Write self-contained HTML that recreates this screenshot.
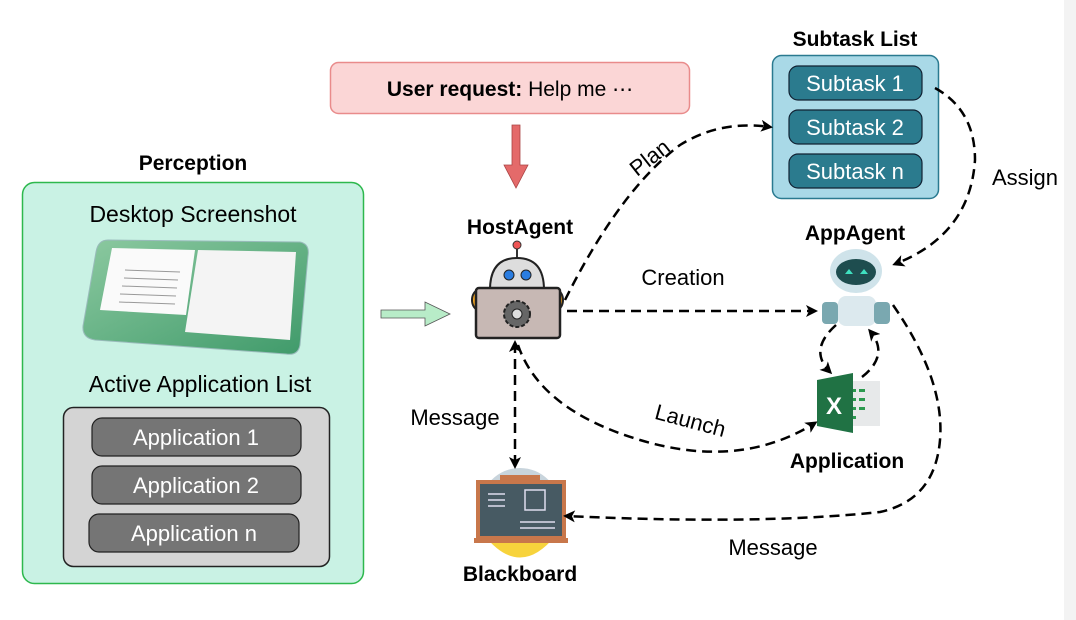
<!DOCTYPE html>
<html><head><meta charset="utf-8"><style>
body{margin:0;width:1076px;height:620px;background:#fff;overflow:hidden;font-family:"Liberation Sans",sans-serif}
svg{position:absolute;left:0;top:0}
</style></head><body>
<svg width="1076" height="620" viewBox="0 0 1076 620" font-family="Liberation Sans, sans-serif">
<defs>
<marker id="ah" markerWidth="12" markerHeight="12" refX="9" refY="6" orient="auto" markerUnits="userSpaceOnUse"><path d="M0,0 L12,6 L0,12 L3,6Z" fill="#000"/></marker>
<marker id="ahs" markerWidth="12" markerHeight="12" refX="3" refY="6" orient="auto" markerUnits="userSpaceOnUse"><path d="M12,0 L0,6 L12,12 L9,6Z" fill="#000"/></marker>
<linearGradient id="scr" x1="0" y1="0" x2="1" y2="1"><stop offset="0" stop-color="#8cc9a0"/><stop offset="1" stop-color="#3f9a6a"/></linearGradient>
</defs>
<rect x="1064" y="0" width="12" height="620" fill="#f3f3f3"/>
<!-- Perception -->
<text x="193" y="170" font-size="21" font-weight="bold" text-anchor="middle">Perception</text>
<rect x="22.5" y="182.5" width="341" height="401" rx="12" fill="#c9f2e4" stroke="#2db84d" stroke-width="1.5"/>
<text x="193" y="222" font-size="23" text-anchor="middle">Desktop Screenshot</text>
<path d="M108,240 L300,242 Q310,244 308,256 L300,345 Q298,356 286,354 L95,340 Q82,338 83,326 L96,252 Q98,240 108,240Z" fill="url(#scr)" stroke="#9bb" stroke-width="1"/>
<path d="M112,248 L195,250 L186,315 L100,310Z" fill="#fafafa"/>
<path d="M198,250 L296,252 L290,340 L185,332Z" fill="#f4f4f4"/>
<g stroke="#999" stroke-width="1"><line x1="125" y1="270" x2="180" y2="272"/><line x1="124" y1="278" x2="178" y2="280"/><line x1="122" y1="286" x2="177" y2="288"/><line x1="120" y1="294" x2="176" y2="296"/><line x1="119" y1="302" x2="175" y2="304"/></g>
<text x="200" y="392" font-size="23" text-anchor="middle">Active Application List</text>
<rect x="63.5" y="407.5" width="266" height="159" rx="10" fill="#d4d4d4" stroke="#222" stroke-width="1.5"/>
<g fill="#757575" stroke="#222" stroke-width="1.2">
<rect x="92" y="418" width="209" height="38" rx="10"/>
<rect x="92" y="466" width="209" height="38" rx="10"/>
<rect x="89" y="514" width="210" height="38" rx="10"/>
</g>
<g fill="#fff" font-size="22" text-anchor="middle">
<text x="196" y="445">Application 1</text>
<text x="196" y="493">Application 2</text>
<text x="194" y="541">Application n</text>
</g>
<!-- green arrow -->
<path d="M381,310 L425,310 L425,302 L450,314 L425,326 L425,318 L381,318Z" fill="#b8ecc8" stroke="#555" stroke-width="0.8"/>
<!-- user request -->
<rect x="330.5" y="62.5" width="359" height="51" rx="8" fill="#fbd6d6" stroke="#e98b8b" stroke-width="1.5"/>
<text x="510" y="96" font-size="21" text-anchor="middle"><tspan font-weight="bold">User request:</tspan> Help me ⋯</text>
<path d="M512,125 L520,125 L520,165 L528,165 L516,188 L504,165 L512,165Z" fill="#e46a6a" stroke="#a44" stroke-width="0.8"/>
<!-- HostAgent -->
<text x="520" y="234" font-size="21" font-weight="bold" text-anchor="middle">HostAgent</text>
<line x1="517" y1="248" x2="517" y2="258" stroke="#333" stroke-width="2"/><circle cx="517" cy="245" r="4" fill="#e55" stroke="#333"/>
<path d="M490,290 Q490,258 517,258 Q544,258 544,290Z" fill="#ddd" stroke="#222" stroke-width="2"/>
<circle cx="509" cy="275" r="5" fill="#2a7de1" stroke="#222"/><circle cx="526" cy="275" r="5" fill="#2a7de1" stroke="#222"/>
<ellipse cx="479" cy="300" rx="7" ry="10" fill="#f5a623" stroke="#222" stroke-width="2"/>
<ellipse cx="556" cy="300" rx="7" ry="10" fill="#f5a623" stroke="#222" stroke-width="2"/>
<rect x="476" y="288" width="84" height="50" rx="3" fill="#c7b8b4" stroke="#222" stroke-width="2.5"/>
<circle cx="517" cy="314" r="13" fill="#666" stroke="#222" stroke-width="2" stroke-dasharray="4 2"/><circle cx="517" cy="314" r="5" fill="#ddd" stroke="#222"/>
<!-- Subtask list -->
<text x="855" y="46" font-size="21" font-weight="bold" text-anchor="middle">Subtask List</text>
<rect x="772.5" y="55.5" width="166" height="143" rx="9" fill="#a9d9e7" stroke="#2a7a90" stroke-width="1.5"/>
<g fill="#2b7b8e" stroke="#123" stroke-width="1.2">
<rect x="789" y="66" width="133" height="34" rx="9"/><rect x="789" y="110" width="133" height="34" rx="9"/><rect x="789" y="154" width="133" height="34" rx="9"/>
</g>
<g fill="#fff" font-size="22" text-anchor="middle">
<text x="855" y="91">Subtask 1</text><text x="855" y="135">Subtask 2</text><text x="855" y="179">Subtask n</text>
</g>
<!-- AppAgent -->
<text x="855" y="240" font-size="21" font-weight="bold" text-anchor="middle">AppAgent</text>
<ellipse cx="856" cy="271" rx="26" ry="22" fill="#cfe3ea"/>
<ellipse cx="856" cy="272" rx="20" ry="13" fill="#1e4d4f"/>
<path d="M845,274 l4,-5 l4,5z M860,274 l4,-5 l4,5z" fill="#3fe0c0"/>
<rect x="838" y="296" width="38" height="30" rx="8" fill="#dce9ee"/>
<rect x="822" y="302" width="16" height="22" rx="4" fill="#7aa8b0"/><rect x="874" y="302" width="16" height="22" rx="4" fill="#7aa8b0"/>
<!-- Excel -->
<rect x="846" y="381" width="34" height="45" fill="#e7e9ea"/>
<g fill="#2c9a4f"><rect x="850" y="389" width="6" height="3"/><rect x="859" y="389" width="6" height="3"/><rect x="850" y="398" width="6" height="3"/><rect x="859" y="398" width="6" height="3"/><rect x="850" y="407" width="6" height="3"/><rect x="859" y="407" width="6" height="3"/><rect x="850" y="416" width="6" height="3"/></g>
<path d="M817,380 L853,373 L853,433 L817,426Z" fill="#207244"/>
<text x="834" y="414" font-size="24" font-weight="bold" fill="#fff" text-anchor="middle">X</text>
<text x="847" y="468" font-size="21" font-weight="bold" text-anchor="middle">Application</text>
<!-- Blackboard -->
<circle cx="520" cy="508" r="40" fill="#c8d4dc"/>
<path d="M484,535 Q520,580 556,535Z" fill="#f7d33c"/>
<rect x="478" y="482" width="86" height="56" fill="#475a63" stroke="#c8774b" stroke-width="4"/>
<rect x="474" y="538" width="94" height="5" fill="#c8774b"/>
<rect x="500" y="475" width="40" height="6" fill="#c8774b"/>
<g stroke="#dde" stroke-width="1.5"><line x1="488" y1="494" x2="505" y2="494"/><line x1="488" y1="500" x2="505" y2="500"/><line x1="488" y1="506" x2="505" y2="506"/><line x1="520" y1="522" x2="555" y2="522"/><line x1="520" y1="528" x2="555" y2="528"/></g>
<rect x="525" y="490" width="20" height="20" fill="none" stroke="#dde" stroke-width="1.5"/>
<text x="520" y="581" font-size="21" font-weight="bold" text-anchor="middle">Blackboard</text>
<!-- connectors -->
<g fill="none" stroke="#000" stroke-width="2.5" stroke-dasharray="10 6">
<path d="M565,300 Q620,190 680,145 Q720,120 770,127" marker-end="url(#ah)"/>
<path d="M567,311 L815,311" marker-end="url(#ah)"/>
<path d="M935,88 Q975,110 975,160 Q970,235 895,264" marker-end="url(#ah)"/>
<path d="M515,343 L515,466" marker-start="url(#ahs)" marker-end="url(#ah)"/>
<path d="M518,345 Q540,410 640,440 Q740,470 815,423" marker-end="url(#ah)"/>
<path d="M836,325 Q808,350 830,372" marker-end="url(#ah)"/>
<path d="M862,377 Q890,355 870,331" marker-end="url(#ah)"/>
<path d="M893,305 Q945,380 940,440 Q935,500 880,512 Q760,525 566,516" marker-end="url(#ah)"/>
</g>
<g font-size="22">
<text x="650" y="165" transform="rotate(-38 650 158)" text-anchor="middle">Plan</text>
<text x="683" y="285" text-anchor="middle">Creation</text>
<text x="1025" y="185" text-anchor="middle">Assign</text>
<text x="455" y="425" text-anchor="middle">Message</text>
<text x="690" y="428" transform="rotate(15 690 422)" text-anchor="middle">Launch</text>
<text x="773" y="555" text-anchor="middle">Message</text>
</g>
</svg>
</body></html>
